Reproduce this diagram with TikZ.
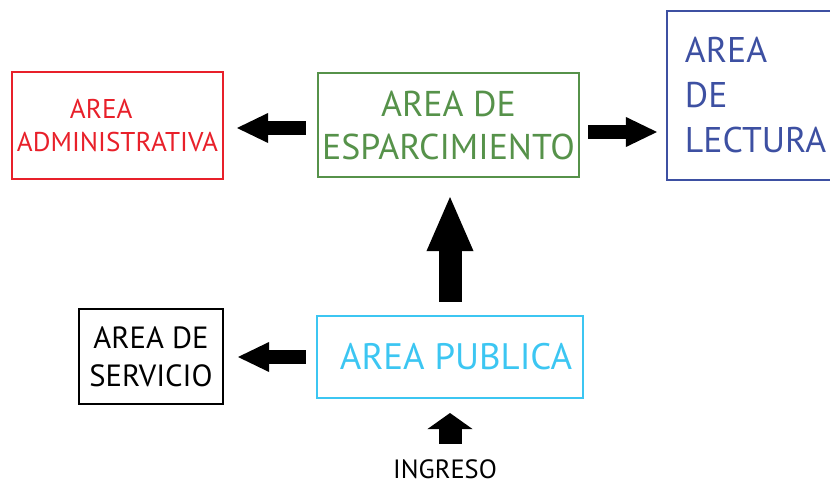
\documentclass[tikz,border=0pt]{standalone}
\usepackage{fontspec}
\setmainfont{PT Sans}
\usetikzlibrary{arrows.meta,calc,positioning}
\definecolor{arRed}{HTML}{E8202A}
\definecolor{arGreen}{HTML}{56924A}
\definecolor{arBlue}{HTML}{3D50A2}
\definecolor{arCyan}{HTML}{3CC6F2}
\tikzset{
  arbox/.style={rectangle,draw,line width=0.05cm,inner sep=0pt,align=center},
  arflow/.style={line width=0.35cm,
                 -{Triangle[length=0.775cm,width=0.75cm,line width=0pt]}},
  arrise/.style={line width=0.575cm,
                 -{Triangle[length=1.35cm,width=1.175cm,line width=0pt]}},
  arentry/.style={line width=0.575cm,
                  -{Triangle[length=0.4cm,width=1.125cm,line width=0pt]}}
}

\begin{document}
\begin{tikzpicture}[x=0.025cm,y=-0.025cm]
    \useasboundingbox (0,0) rectangle (830,485);
    % zonas
    \node[arbox,draw=arRed,text=arRed,minimum width=5.275cm,
          minimum height=2.675cm,font=\fontsize{19.3}{23.1}\selectfont]
      (adm) at (117.5,125.5) {\hspace*{-1.2em}AREA\\ADMINISTRATIVA};
    \node[arbox,draw=arGreen,text=arGreen,minimum width=6.525cm,
          minimum height=2.6cm,font=\fontsize{25.5}{30.6}\selectfont]
      (esp) at (448.5,125) {AREA DE\\ESPARCIMIENTO};
    \node[arbox,draw=arBlue,text=arBlue,align=left,inner xsep=0.45cm,
          text width=3.55cm,minimum height=4.225cm,
          font=\fontsize{25.4}{32}\selectfont]
      (lec) at (756,95.5) {AREA\\DE\\LECTURA};
    \node[arbox,minimum width=3.6cm,minimum height=2.375cm,
          font=\fontsize{21.8}{27}\selectfont]
      (serv) at (151,356.5) {AREA DE\\SERVICIO};
    \node[arbox,draw=arCyan,text=arCyan,minimum width=6.65cm,
          minimum height=2.05cm,font=\fontsize{26.2}{32}\selectfont]
      (pub) at (450,357) {\hspace*{0.3cm}AREA PUBLICA};
    \node[anchor=base,inner sep=0pt,font=\fontsize{18.8}{22}\selectfont]
      (ing) at (445,478) {INGRESO};

    % flechas
    \draw[arflow,shorten <=0.275cm,shorten >=0.325cm]
      ([yshift=-0.075cm]esp.west) -- ([yshift=-0.075cm]esp.west -| adm.east);
    \draw[arflow,shorten <=0.2cm,shorten >=0.225cm]
      ([yshift=-0.175cm]esp.east) -- ([yshift=-0.175cm]esp.east -| lec.west);
    \draw[arflow,shorten <=0.25cm,shorten >=0.35cm]
      (pub.west) -- (pub.west -| serv.east);
    \draw[arrise,shorten <=0.325cm,shorten >=0.475cm]
      (pub.north) -- (pub.north |- esp.south);
    \draw[arentry,shorten <=0.375cm,shorten >=0.35cm]
      (pub.south |- ing.north) -- (pub.south);
\end{tikzpicture}
\end{document}
